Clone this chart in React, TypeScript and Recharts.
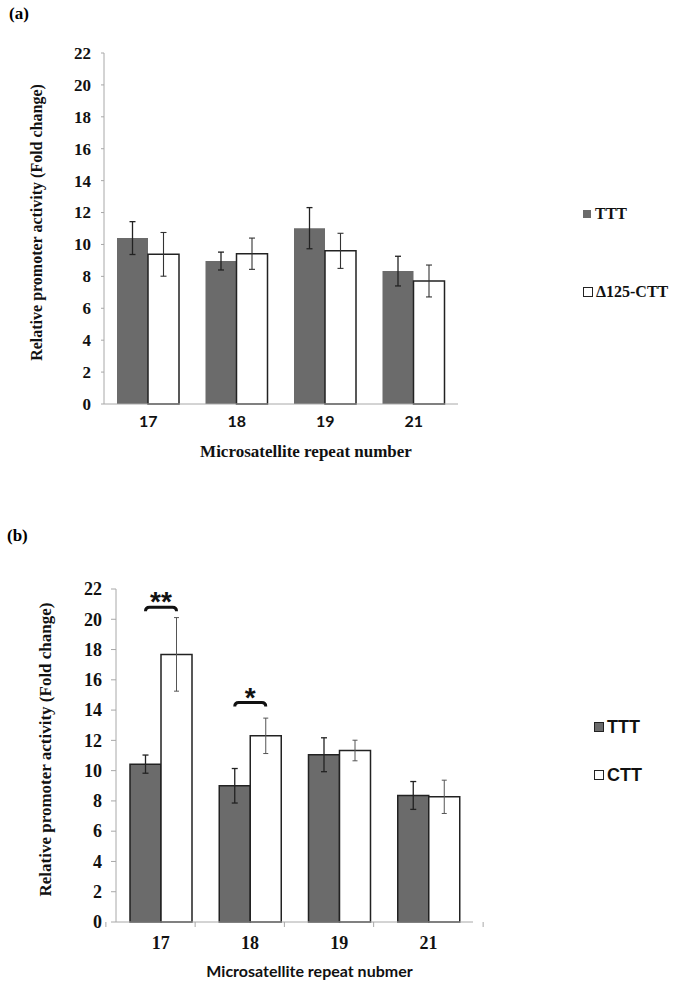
import React from "react";
import { Bar, BarChart, ErrorBar, Label, LabelList, Legend, XAxis, YAxis } from "recharts";

const repeats = ["17", "18", "19", "21"];
const yTicks = [0, 2, 4, 6, 8, 10, 12, 14, 16, 18, 20, 22];

// panel (a)
const tttA = [10.4, 8.96, 11.02, 8.33];
const tttErrA = [1.03, 0.56, 1.29, 0.93];
const delA = [9.38, 9.42, 9.6, 7.71];
const delErrA = [1.37, 0.98, 1.1, 1.0];

// panel (b)
const tttB = [10.43, 9.0, 11.05, 8.36];
const tttErrB = [0.6, 1.14, 1.12, 0.92];
const cttB = [17.68, 12.3, 11.33, 8.27];
const cttErrB = [2.43, 1.17, 0.68, 1.1];
const sigMarks = ["**", "*", "", ""];
const sigLevels = [20.8, 14.5, 0, 0];

const dataA = repeats.map((r, i) => ({
  repeat: r,
  ttt: tttA[i],
  tttErr: tttErrA[i],
  ctt: delA[i],
  cttErr: delErrA[i],
}));

const dataB = repeats.map((r, i) => ({
  repeat: r,
  ttt: tttB[i],
  tttErr: tttErrB[i],
  ctt: cttB[i],
  cttErr: cttErrB[i],
  sig: sigMarks[i],
  level: sigLevels[i],
}));

const SERIF = "Liberation Serif, Times New Roman, serif";
const SANS = "Lato, Open Sans, sans-serif";
const ARIAL = "Liberation Sans, Arial, sans-serif";
const DARK = "#6b6b6b";
const AXIS = "#a8a8a8";

function BoundaryTick(props: any) {
  const { x, y, payload, index, visibleTicksCount, band, font, size, dy } = props;
  const half = band / 2;
  return (
    <g>
      <line x1={x - half} x2={x - half} y1={y - 8} y2={y - 3} stroke={AXIS} />
      {index === visibleTicksCount - 1 && (
        <line x1={x + half} x2={x + half} y1={y - 8} y2={y - 3} stroke={AXIS} />
      )}
      <text x={x} y={y + dy} textAnchor="middle" fontFamily={font} fontWeight="bold" fontSize={size} fill="#111">
        {payload.value}
      </text>
    </g>
  );
}

function PlainTick(props: any) {
  const { x, y, payload, font, size, dy } = props;
  return (
    <text x={x} y={y + dy} textAnchor="middle" fontFamily={font} fontWeight="bold" fontSize={size} fill="#111">
      {payload.value}
    </text>
  );
}

function YTick(props: any) {
  const { x, y, payload, size } = props;
  return (
    <text x={x} y={y} dy="0.35em" textAnchor="end" fontFamily={SERIF} fontWeight="bold" fontSize={size} fill="#111">
      {payload.value}
    </text>
  );
}

function SigBracket(props: any) {
  const { x, y, width, height, index } = props;
  const mark = sigMarks[index];
  if (!mark) return null;
  const ppu = height / cttB[index];
  const by = y + height - sigLevels[index] * ppu;
  const x1 = x - width / 2;
  const x2 = x + width / 2;
  return (
    <g>
      <path
        d={`M${x1},${by + 4} Q${x1},${by} ${x1 + 4},${by} L${x2 - 4},${by} Q${x2},${by} ${x2},${by + 4}`}
        fill="none"
        stroke="#111"
        strokeWidth={3}
      />
      <text x={(x1 + x2) / 2} y={by + 4} textAnchor="middle" fontFamily={ARIAL} fontWeight="bold" fontSize={28} fill="#111">
        {mark}
      </text>
    </g>
  );
}

function LegendA() {
  return (
    <div style={{ fontFamily: SERIF, fontWeight: "bold", fontSize: 16, color: "#111" }}>
      <div style={{ display: "flex", alignItems: "center", height: 20 }}>
        <span style={{ width: 8, height: 8, background: DARK, marginRight: 4 }} />
        TTT
      </div>
      <div style={{ display: "flex", alignItems: "center", height: 20, marginTop: 58 }}>
        <span style={{ width: 8, height: 8, background: "#fff", border: "1px solid #222", marginRight: 3 }} />
        Δ125-CTT
      </div>
    </div>
  );
}

function LegendB() {
  return (
    <div style={{ fontFamily: ARIAL, fontWeight: "bold", fontSize: 18, color: "#111" }}>
      <div style={{ display: "flex", alignItems: "center", height: 22 }}>
        <span style={{ width: 8, height: 8, background: DARK, border: "1px solid #222", marginRight: 3 }} />
        TTT
      </div>
      <div style={{ display: "flex", alignItems: "center", height: 22, marginTop: 26 }}>
        <span style={{ width: 8, height: 8, background: "#fff", border: "1px solid #222", marginRight: 3 }} />
        CTT
      </div>
    </div>
  );
}

export default function App() {
  return (
    <div style={{ position: "absolute", left: 0, top: 0, width: 675, height: 982, background: "#fff" }}>
      <div style={{ position: "absolute", left: 9, top: 4, fontFamily: SERIF, fontWeight: "bold", fontSize: 17 }}>(a)</div>
      <div style={{ position: "absolute", left: 0, top: 0 }}>
        <BarChart width={675} height={490} data={dataA} margin={{ top: 53, right: 125, bottom: 0, left: 0 }} barGap={0} barSize={31}>
          <XAxis
            dataKey="repeat"
            height={86}
            stroke={AXIS}
            tickLine={false}
            tick={<PlainTick font={SANS} size={16} dy={15} />}
          >
            <Label
              content={(p: any) => (
                <text
                  x={p.viewBox.x + p.viewBox.width / 2 + 25}
                  y={p.viewBox.y + 53}
                  textAnchor="middle"
                  fontFamily={SERIF}
                  fontWeight="bold"
                  fontSize={17}
                  fill="#111"
                >
                  Microsatellite repeat number
                </text>
              )}
            />
          </XAxis>
          <YAxis
            width={104}
            domain={[0, 22]}
            ticks={yTicks}
            interval={0}
            stroke={AXIS}
            tickSize={3}
            tickMargin={10}
            tick={<YTick size={17} />}
          >
            <Label
              content={(p: any) => {
                const cx = 38;
                const cy = p.viewBox.y + p.viewBox.height / 2 - 6;
                return (
                  <text
                    x={cx}
                    y={cy}
                    transform={`rotate(-90 ${cx} ${cy})`}
                    textAnchor="middle"
                    dominantBaseline="middle"
                    fontFamily={SERIF}
                    fontWeight="bold"
                    fontSize={16}
                    fill="#111"
                  >
                    Relative promoter activity (Fold change)
                  </text>
                );
              }}
            />
          </YAxis>
          <Legend
            layout="vertical"
            align="right"
            verticalAlign="top"
            wrapperStyle={{ left: 583, top: 204, width: 92 }}
            content={() => <LegendA />}
          />
          <Bar dataKey="ttt" name="TTT" fill={DARK} isAnimationActive={false}>
            <ErrorBar dataKey="tttErr" width={3} stroke="#222" strokeWidth={1.3} />
          </Bar>
          <Bar dataKey="ctt" name="Δ125-CTT" fill="#fff" stroke="#222" strokeWidth={1.5} isAnimationActive={false}>
            <ErrorBar dataKey="cttErr" width={3} stroke="#333" strokeWidth={1.1} />
          </Bar>
        </BarChart>
      </div>

      <div style={{ position: "absolute", left: 7, top: 526, fontFamily: SERIF, fontWeight: "bold", fontSize: 17 }}>(b)</div>
      <div style={{ position: "absolute", left: 0, top: 490 }}>
        <BarChart width={675} height={492} data={dataB} margin={{ top: 99, right: 121, bottom: 0, left: 0 }} barGap={0} barSize={31}>
          <XAxis
            dataKey="repeat"
            height={60}
            stroke={AXIS}
            tickLine={false}
            tick={<BoundaryTick band={109.5} font={SERIF} size={18} dy={19} />}
          >
            <Label
              content={(p: any) => (
                <text
                  x={p.viewBox.x + p.viewBox.width / 2 + 15}
                  y={p.viewBox.y + 55}
                  textAnchor="middle"
                  fontFamily={SANS}
                  fontWeight="bold"
                  fontSize={16}
                  fill="#111"
                >
                  Microsatellite repeat nubmer
                </text>
              )}
            />
          </XAxis>
          <YAxis
            width={116}
            domain={[0, 22]}
            ticks={yTicks}
            interval={0}
            stroke={AXIS}
            tickSize={5}
            tickMargin={9}
            tick={<YTick size={18} />}
          >
            <Label
              content={(p: any) => {
                const cx = 47;
                const cy = p.viewBox.y + p.viewBox.height / 2 - 6;
                return (
                  <text
                    x={cx}
                    y={cy}
                    transform={`rotate(-90 ${cx} ${cy})`}
                    textAnchor="middle"
                    dominantBaseline="middle"
                    fontFamily={SERIF}
                    fontWeight="bold"
                    fontSize={17}
                    fill="#111"
                  >
                    Relative promoter activity (Fold change)
                  </text>
                );
              }}
            />
          </YAxis>
          <Legend
            layout="vertical"
            align="right"
            verticalAlign="top"
            wrapperStyle={{ left: 594, top: 226, width: 81 }}
            content={() => <LegendB />}
          />
          <Bar dataKey="ttt" name="TTT" fill={DARK} stroke="#222" strokeWidth={1.5} isAnimationActive={false}>
            <ErrorBar dataKey="tttErr" width={3} stroke="#222" strokeWidth={1.3} />
          </Bar>
          <Bar dataKey="ctt" name="CTT" fill="#fff" stroke="#222" strokeWidth={1.5} isAnimationActive={false}>
            <ErrorBar dataKey="cttErr" width={2.5} stroke="#555" strokeWidth={1} />
            <LabelList dataKey="sig" content={<SigBracket />} />
          </Bar>
        </BarChart>
      </div>
    </div>
  );
}
